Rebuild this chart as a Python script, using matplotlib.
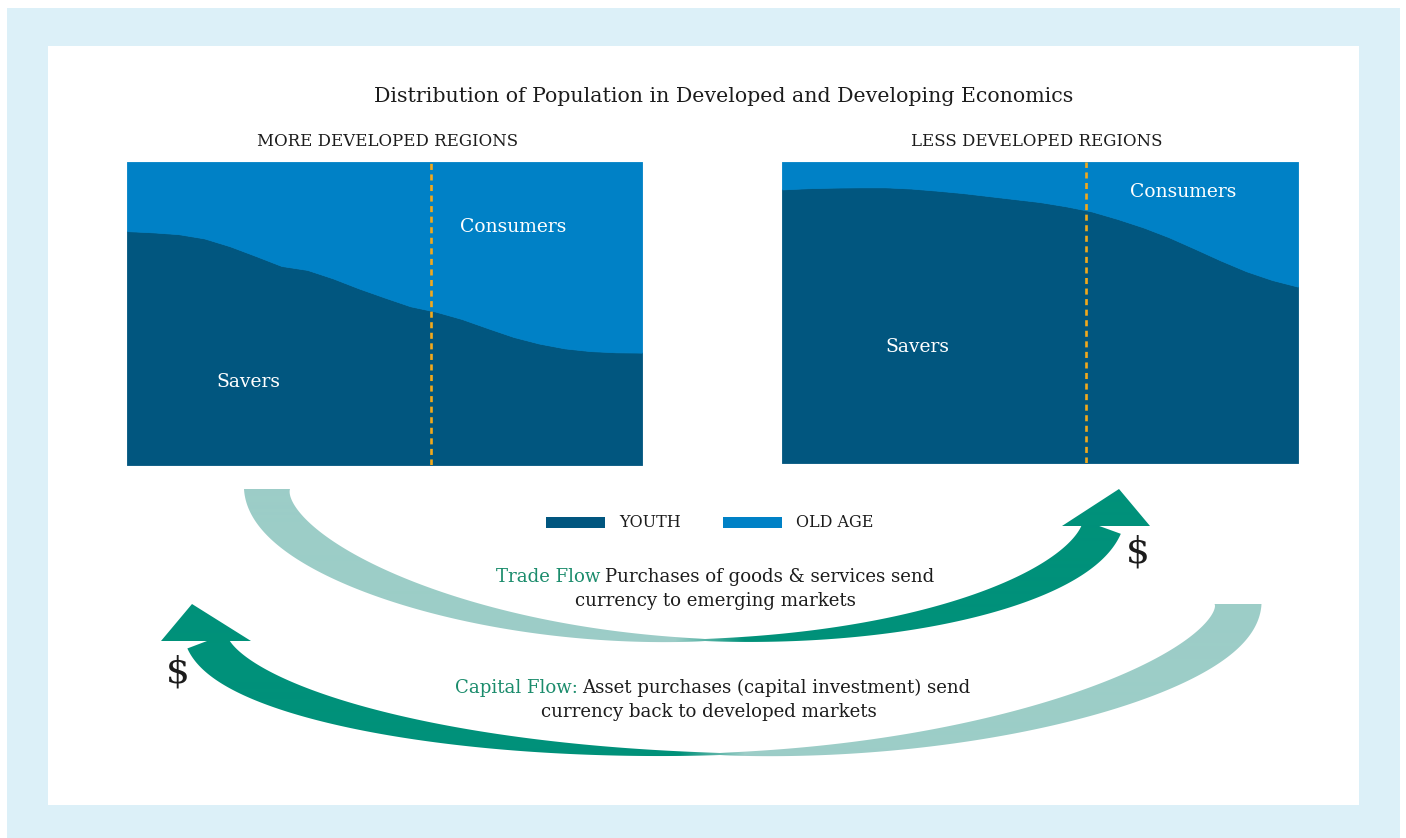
import numpy as np
import matplotlib
matplotlib.use("Agg")
import matplotlib.pyplot as plt
from matplotlib.patches import Rectangle, Polygon
from matplotlib.colors import LinearSegmentedColormap

# ---- data (share of population, %) ----
years = [1950, 1955, 1960, 1965, 1970, 1975, 1980, 1985, 1990, 1995, 2000,
         2005, 2010, 2015, 2020, 2025, 2030, 2035, 2040, 2045, 2050]

more_dev_youth = [77.2, 76.8, 76.2, 74.8, 72.2, 69.0, 65.7, 64.4, 61.6, 58.3, 55.3,
                  52.4, 50.6, 48.2, 45.2, 42.3, 40.1, 38.5, 37.6, 37.2, 37.1]
more_dev_old = [22.8, 23.2, 23.8, 25.2, 27.8, 31.0, 34.3, 35.6, 38.4, 41.7, 44.7,
                47.6, 49.4, 51.8, 54.8, 57.7, 59.9, 61.5, 62.4, 62.8, 62.9]

less_dev_youth = [90.9, 91.3, 91.5, 91.6, 91.6, 91.2, 90.5, 89.7, 88.7, 87.7, 86.7,
                  85.3, 83.6, 81.1, 78.3, 75.0, 71.2, 67.3, 63.7, 60.8, 58.6]
less_dev_old = [9.1, 8.7, 8.5, 8.4, 8.4, 8.8, 9.5, 10.3, 11.3, 12.3, 13.3,
                14.7, 16.4, 18.9, 21.7, 25.0, 28.8, 32.7, 36.3, 39.2, 41.4]

today = 2009

series_labels = ["YOUTH", "OLD AGE"]

# ---- style ----
DARK = "#01567f"
BRIGHT = "#0081c6"
ORANGE = "#f2a91c"
TEAL_DARK = "#00917a"
TEAL_LIGHT = "#9ccdc7"
TEAL_TEXT = "#1b8c6c"
FRAME = "#dcf0f8"
INK = "#1c1c1c"
SERIF = "DejaVu Serif"

W, H = 1406, 838
fig = plt.figure(figsize=(W / 100, H / 100), dpi=100)
fig.patch.set_facecolor("white")

# full-figure canvas in pixel units for the decoration
bg = fig.add_axes([0, 0, 1, 1])
bg.set_xlim(0, W)
bg.set_ylim(H, 0)
bg.axis("off")

bg.add_patch(Rectangle((7, 8), 1393, 830, facecolor=FRAME, edgecolor="none", zorder=0))
bg.add_patch(Rectangle((48, 46), 1311, 759, facecolor="white", edgecolor="none", zorder=1))


def area_panel(rect, youth, old, labels):
    ax = fig.add_axes([rect[0] / W, 1 - (rect[1] + rect[3]) / H, rect[2] / W, rect[3] / H])
    ax.stackplot(years, youth, old, colors=[DARK, BRIGHT], edgecolor="face", linewidth=0.6)
    ax.axvline(today, color=ORANGE, linewidth=1.9, linestyle=(0, (2.3, 1.7)))
    ax.set_xlim(years[0], years[-1])
    ax.set_ylim(0, 100)
    ax.axis("off")
    for txt, x, y in labels:
        ax.text(x, y, txt, color="white", fontsize=13.5, family=SERIF,
                ha="center", va="center")
    return ax


area_panel((127, 162, 515, 303), more_dev_youth, more_dev_old,
           [("Consumers", 2025, 78.5), ("Savers", 1973.5, 27.4)])
area_panel((782, 162, 516, 301), less_dev_youth, less_dev_old,
           [("Consumers", 2027.8, 90.0), ("Savers", 1976.3, 38.5)])

bg.text(724, 96, "Distribution of Population in Developed and Developing Economics",
        fontsize=14.8, family=SERIF, color=INK, ha="center", va="center")
bg.text(388, 142, "MORE DEVELOPED REGIONS", fontsize=12, family=SERIF,
        color=INK, ha="center", va="center")
bg.text(1037, 142, "LESS DEVELOPED REGIONS", fontsize=12, family=SERIF,
        color=INK, ha="center", va="center")

# legend
for (x, lab, col) in [(546, series_labels[0], DARK), (723, series_labels[1], BRIGHT)]:
    bg.add_patch(Rectangle((x, 517), 59, 11, facecolor=col, edgecolor="none", zorder=3))
    bg.text(x + 73, 522.5, lab, fontsize=11.5, family=SERIF, color=INK,
            ha="left", va="center", zorder=3)


# ---- curved flow arrows ----
def cubic(p0, p1, p2, p3, n=160):
    t = np.linspace(0, 1, n)[:, None]
    p0, p1, p2, p3 = map(np.asarray, (p0, p1, p2, p3))
    pts = (1 - t) ** 3 * p0 + 3 * (1 - t) ** 2 * t * p1 + 3 * (1 - t) * t ** 2 * p2 + t ** 3 * p3
    d = 3 * (1 - t) ** 2 * (p1 - p0) + 6 * (1 - t) * t * (p2 - p1) + 3 * t ** 2 * (p3 - p2)
    return pts, d


def flow_arrow(seg1, seg2, w0, wmid, w1, head, grad_x, flip):
    c1, d1 = cubic(*seg1)
    c2, d2 = cubic(*seg2)
    c = np.vstack([c1, c2[1:]])
    d = np.vstack([d1, d2[1:]])
    n = np.column_stack([-d[:, 1], d[:, 0]])
    n /= np.linalg.norm(n, axis=1)[:, None]
    k = len(c1)
    u = np.linspace(0, 1, k)
    w = np.concatenate([wmid + (w0 - wmid) * (1 - u) ** 0.85,
                        (wmid + (w1 - wmid) * u ** 0.9)[1:]])
    s1 = c + n * w[:, None] / 2
    s2 = c - n * w[:, None] / 2
    shaft = np.vstack([s1, s2[::-1]])

    cols = [TEAL_LIGHT, TEAL_DARK] if not flip else [TEAL_DARK, TEAL_LIGHT]
    cmap = LinearSegmentedColormap.from_list("flow", cols)
    xs = np.arange(W) + 0.5
    grad = np.clip((xs - grad_x[0]) / (grad_x[1] - grad_x[0]), 0, 1)[None, :]
    for poly in (shaft, np.asarray(head)):
        patch = Polygon(poly, closed=True, facecolor="none", edgecolor="none")
        bg.add_patch(patch)
        im = bg.imshow(grad, cmap=cmap, vmin=0, vmax=1, extent=(0, W, H, 0),
                       aspect="auto", interpolation="bilinear", zorder=2)
        im.set_clip_path(patch)


# trade flow: developed -> emerging (left to right)
flow_arrow(
    seg1=((267, 489), (267, 556), (470, 640), (705, 640)),
    seg2=((705, 640), (921, 640), (1081, 585), (1102, 527)),
    w0=46, wmid=2, w1=40,
    head=[(1062, 526), (1119, 489), (1150, 526)],
    grad_x=(675, 745), flip=False,
)
# capital flow: emerging -> developed (right to left)
flow_arrow(
    seg1=((1238, 604), (1238, 670), (1000, 754), (720, 754)),
    seg2=((720, 754), (438, 754), (229, 699), (207, 641)),
    w0=47, wmid=2, w1=42,
    head=[(161, 641), (192, 604), (251, 641)],
    grad_x=(680, 745), flip=True,
)
bg.set_xlim(0, W)
bg.set_ylim(H, 0)

bg.text(1138, 552, "$", fontsize=27, family=SERIF, color=INK, ha="center", va="center", zorder=4)
bg.text(178, 672, "$", fontsize=27, family=SERIF, color=INK, ha="center", va="center", zorder=4)

renderer = fig.canvas.get_renderer()


def two_tone(xc, y, head, rest, size=13.1):
    t1 = bg.text(0, y, head, color=TEAL_TEXT, fontsize=size, family=SERIF,
                 ha="left", va="center", zorder=4)
    t2 = bg.text(0, y, rest, color=INK, fontsize=size, family=SERIF,
                 ha="left", va="center", zorder=4)
    w1 = t1.get_window_extent(renderer).width
    w2 = t2.get_window_extent(renderer).width
    gap = size * 0.35
    x0 = xc - (w1 + gap + w2) / 2
    t1.set_x(x0)
    t2.set_x(x0 + w1 + gap)


two_tone(715, 577, "Trade Flow", "Purchases of goods & services send")
bg.text(715, 601, "currency to emerging markets", color=INK, fontsize=13.1,
        family=SERIF, ha="center", va="center", zorder=4)
two_tone(713, 688, "Capital Flow:", "Asset purchases (capital investment) send")
bg.text(709, 712, "currency back to developed markets", color=INK, fontsize=13.1,
        family=SERIF, ha="center", va="center", zorder=4)

fig.savefig("out.png", dpi=100)
